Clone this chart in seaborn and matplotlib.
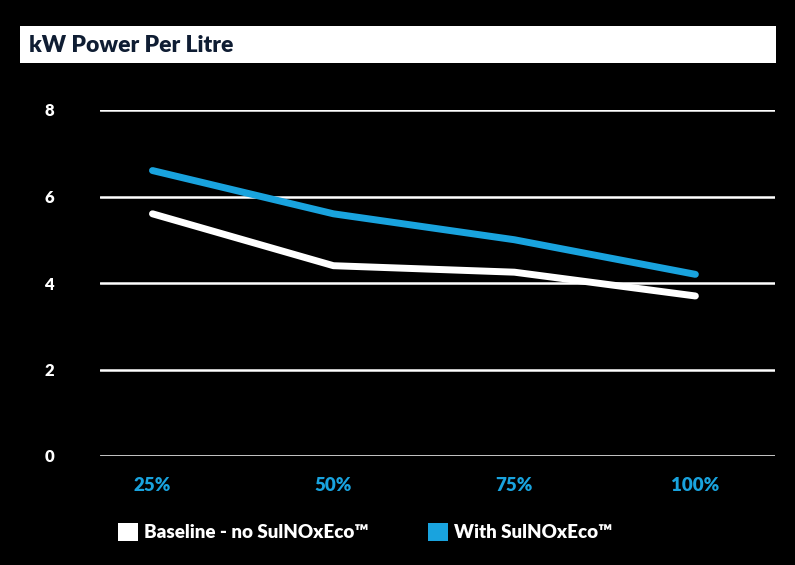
import numpy as np
import pandas as pd
import seaborn as sns
import matplotlib
matplotlib.use('Agg')
import matplotlib.pyplot as plt
from matplotlib.patches import Rectangle, Patch

# chart data
loads = ['25%', '50%', '75%', '100%']
baseline = [5.6, 4.4, 4.25, 3.7]
with_eco = [6.6, 5.6, 5.0, 4.2]
series_names = ['Baseline - no SulNOxEco\u2122', 'With SulNOxEco\u2122']
y_ticks = [0, 2, 4, 6, 8]

BLUE = '#19a3de'
NAVY = '#0f1d33'

df = pd.DataFrame({
    'load': loads * 2,
    'pos': list(range(len(loads))) * 2,
    'value': baseline + with_eco,
    'series': [series_names[0]] * len(loads) + [series_names[1]] * len(loads),
})

sns.set_style('dark')
plt.rcParams['font.family'] = ['Lato', 'DejaVu Sans']

fig = plt.figure(figsize=(7.95, 5.65), dpi=100, facecolor='black')
ax = fig.add_axes([100 / 795, 1 - 456 / 565, 675 / 795, 346 / 565])
ax.set_facecolor('black')

palette = {series_names[0]: 'white', series_names[1]: BLUE}
sns.lineplot(data=df, x='pos', y='value', hue='series', palette=palette,
             linewidth=5.0, ax=ax, legend=False, solid_capstyle='round')
for ln in ax.lines:
    ln.set_clip_on(False)

ax.set_ylim(0, 8)
ax.set_xlim(-0.29, 3.44)
ax.set_yticks(y_ticks)
ax.set_xticks(range(len(loads)))
ax.set_xticklabels(loads)
ax.grid(axis='y', color='white', linewidth=1.8)
ax.grid(axis='x', visible=False)
ax.set_axisbelow(True)
for s in ax.spines.values():
    s.set_visible(False)
ax.set_xlabel('')
ax.set_ylabel('')
ax.tick_params(axis='y', length=0, pad=33, labelsize=12, labelcolor='white')
ax.tick_params(axis='x', length=0, pad=15, labelsize=13.5, labelcolor=BLUE)
for t in ax.get_yticklabels() + ax.get_xticklabels():
    t.set_fontweight('heavy')

# title banner
fig.patches.append(Rectangle((20 / 795, 1 - 63 / 565), 756 / 795, 37 / 565,
                             transform=fig.transFigure, facecolor='white',
                             edgecolor='none', zorder=0))
fig.text(29 / 795, 1 - 45 / 565, 'kW Power Per Litre', color=NAVY,
         fontsize=16.5, fontweight='heavy', va='center', ha='left')

handles = [Patch(facecolor='white', edgecolor='none', label=series_names[0]),
           Patch(facecolor=BLUE, edgecolor='none', label=series_names[1])]
leg = fig.legend(handles=handles, loc='center left', ncol=2,
                 bbox_to_anchor=(118 / 795, 1 - 532 / 565), frameon=False,
                 borderpad=0, borderaxespad=0, handlelength=1.07, handleheight=1.07,
                 handletextpad=0.3, columnspacing=3.2,
                 prop={'size': 13.5, 'weight': 'heavy'})
for t in leg.get_texts():
    t.set_color('white')

fig.savefig('out.png', dpi=100, facecolor='black')
